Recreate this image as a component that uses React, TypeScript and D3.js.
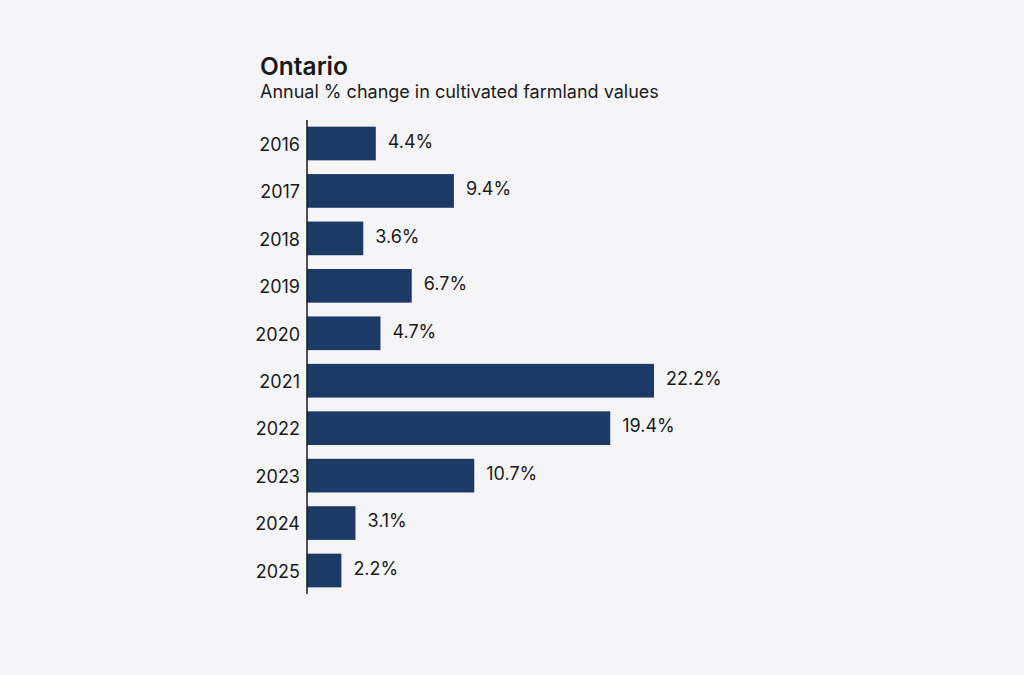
import { useEffect, useRef } from 'react';
import * as d3 from 'd3';

const years = ['2016', '2017', '2018', '2019', '2020', '2021', '2022', '2023', '2024', '2025'];
const changes = [4.4, 9.4, 3.6, 6.7, 4.7, 22.2, 19.4, 10.7, 3.1, 2.2];

const App = () => {
  const ref = useRef<SVGSVGElement>(null);

  useEffect(() => {
    if (!ref.current) return;
    const svg = d3.select(ref.current);
    svg.selectAll('*').remove();

    const font = 'Inter, "Noto Sans", sans-serif';
    const barColor = '#1b3a65';
    const textColor = '#1a1a1a';

    svg.append('rect').attr('width', 1024).attr('height', 675).attr('fill', '#f5f5f7');

    const data = years.map((y, i) => ({ year: y, value: changes[i] }));

    const x = d3.scaleLinear().domain([0, 22.2]).range([307, 654]);
    const y = d3
      .scaleBand()
      .domain(years)
      .range([120, 594])
      .paddingInner(0.29)
      .paddingOuter(0.14);

    // title
    svg
      .append('text')
      .attr('x', 260)
      .attr('y', 75)
      .attr('font-family', font)
      .attr('font-size', 24.5)
      .attr('font-weight', 600)
      .attr('fill', textColor)
      .text('Ontario');

    svg
      .append('text')
      .attr('x', 260)
      .attr('y', 98)
      .attr('font-family', font)
      .attr('font-size', 18)
      .attr('fill', textColor)
      .text('Annual % change in cultivated farmland values');

    // bars
    svg
      .selectAll('.bar')
      .data(data)
      .enter()
      .append('rect')
      .attr('class', 'bar')
      .attr('x', x(0))
      .attr('y', (d) => y(d.year) || 0)
      .attr('width', (d) => x(d.value) - x(0))
      .attr('height', y.bandwidth())
      .attr('fill', barColor);

    // value labels
    svg
      .selectAll('.val')
      .data(data)
      .enter()
      .append('text')
      .attr('class', 'val')
      .attr('x', (d) => x(d.value) + 12)
      .attr('y', (d) => (y(d.year) || 0) + y.bandwidth() / 2 - 2)
      .attr('dy', '0.35em')
      .attr('font-family', font)
      .attr('font-size', 18)
      .attr('fill', textColor)
      .text((d) => `${d.value.toFixed(1)}%`);

    // year labels
    svg
      .selectAll('.yr')
      .data(data)
      .enter()
      .append('text')
      .attr('class', 'yr')
      .attr('x', 300)
      .attr('y', (d) => (y(d.year) || 0) + y.bandwidth() / 2 + 1)
      .attr('dy', '0.35em')
      .attr('text-anchor', 'end')
      .attr('font-family', font)
      .attr('font-size', 18)
      .attr('fill', textColor)
      .text((d) => d.year);

    // axis line
    svg
      .append('line')
      .attr('x1', x(0))
      .attr('x2', x(0))
      .attr('y1', 120)
      .attr('y2', 594)
      .attr('stroke', '#1a1a1a')
      .attr('stroke-width', 1.5);
  }, []);

  return (
    <div style={{ position: 'fixed', left: 0, top: 0 }}>
      <svg ref={ref} width={1024} height={675} style={{ display: 'block' }}></svg>
    </div>
  );
};

export default App;
